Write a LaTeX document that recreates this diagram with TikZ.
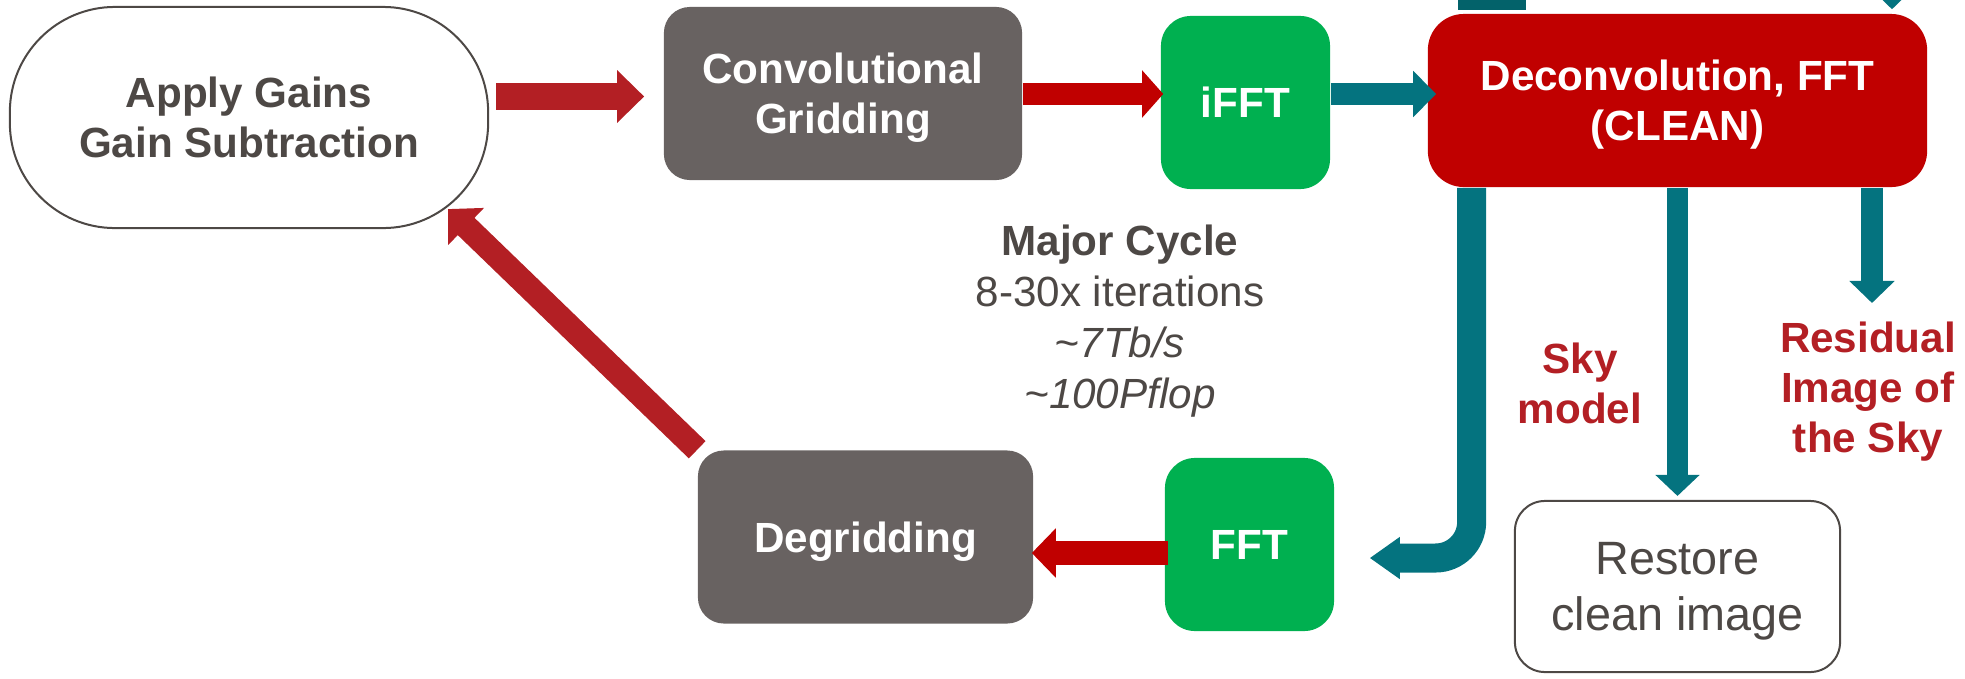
\documentclass[tikz,border=0pt]{standalone}
\usepackage{fontspec}
\setmainfont{Liberation Sans}
\usetikzlibrary{arrows.meta,calc}

\newlength{\du}
\setlength{\du}{0.01cm}

\definecolor{boxgray}{HTML}{686261}
\definecolor{fftgreen}{HTML}{00B050}
\definecolor{cleanred}{HTML}{C00000}
\definecolor{flowred}{HTML}{B31F24}
\definecolor{flowteal}{HTML}{04737F}
\definecolor{loopteal}{HTML}{03626A}
\definecolor{textgray}{HTML}{4D4845}

% 1 px of the picture = 0.1mm
\tikzset{
  stagebox/.style={rounded corners=2.6mm, inner sep=0pt, text=white, align=center, text depth=0pt,
    font=\bfseries\fontsize{12}{14.2}\selectfont, minimum height=17.3mm},
  graybox/.style={stagebox, fill=boxgray, minimum width=#1},
  greenbox/.style={stagebox, fill=fftgreen, minimum width=16.9mm, rounded corners=3mm},
  outline/.style={draw=textgray, line width=0.2mm, inner sep=0pt, align=center, text depth=0pt, text=textgray},
  skylabel/.style={text=flowred, align=center, anchor=base, inner sep=0pt,
    font=\bfseries\fontsize{12}{14.2}\selectfont},
  flow/.style n args={3}{line width=#1, -{Triangle[width=#2, length=#3]}}
}

\begin{document}
\begin{tikzpicture}
\pgftransformyscale{-1.000000}
\useasboundingbox (0\du,0\du) rectangle (1965\du,678\du);
\clip (0\du,0\du) rectangle (1965\du,678\du);

% major cycle
\node[outline, rounded corners=10.5mm, minimum width=47.8mm, minimum height=22.1mm,
  font=\bfseries\fontsize{12}{14.2}\selectfont] (apply) at (249\du,117.5\du) {Apply Gains\\Gain Subtraction};
\node[graybox=35.8mm] (conv) at (843\du,93.5\du) {Convolutional\\Gridding};
\node[greenbox] (ifft) at (1245.5\du,102.5\du) {iFFT};
\node[stagebox, fill=cleanred, minimum width=49.9mm, rounded corners=3.6mm] (decon) at (1677.5\du,100.5\du) {Deconvolution, FFT\\(CLEAN)};
\node[greenbox] (fft) at (1249.5\du,544.5\du) {FFT};
\node[graybox=33.5mm] (degrid) at (865.5\du,537\du) {Degridding};
\node[outline, rounded corners=3mm, minimum width=32.5mm, minimum height=17.1mm,
  font=\fontsize{13.3}{15.9}\selectfont] (restore) at (1677.5\du,586.5\du) {Restore\\clean image};

% base = baseline of the last line
\node[text=textgray, align=center, anchor=base, inner sep=0pt, font=\fontsize{12}{14.5}\selectfont] (major) at (1120\du,408\du)
  {\textbf{Major Cycle}\\8-30x iterations\\\textit{\textasciitilde 7Tb/s}\\\textit{\textasciitilde 100Pflop}};
\node[skylabel] (sky) at (1580\du,423\du) {Sky\\model};
\node[skylabel] (resid) at (1868\du,452\du) {Residual\\Image of\\the Sky};

\coordinate (residtip) at (1872\du,303\du);
\coordinate (minorin) at (1892\du,-60\du);

\draw[flow={2.6mm}{5.1mm}{2.7mm}, flowred, shorten <=0.7mm, shorten >=1.9mm] ($(apply.east)+(0,-21\du)$) -- ($(conv.west)+(0,3\du)$);
\draw[flow={2.2mm}{4.6mm}{2.1mm}, cleanred, shorten >=-0.3mm] ($(conv.east)+(0,0.5\du)$) -- ($(ifft.west)+(0,-8.5\du)$);
\draw[flow={2.2mm}{4.5mm}{2.3mm}, flowteal, shorten >=-0.9mm] ($(ifft.east)+(0,-8.5\du)$) -- ($(decon.west)+(0,-6.5\du)$);
\draw[flow={2.9mm}{4mm}{3mm}, flowteal, rounded corners=3.6mm] ($(decon.south west)+(44.5\du,0)$) |- ($(fft.east)+(35\du,13.5\du)$);
\draw[flow={2.1mm}{4.3mm}{2.1mm}, flowteal, shorten >=0.4mm] (decon.south) -- (restore.north);
\draw[flow={2.2mm}{4.4mm}{2.2mm}, flowteal] (decon.south -| residtip) -- (residtip);
\draw[flow={2.4mm}{4.8mm}{2.4mm}, cleanred, shorten <=-0.4mm, shorten >=-0.2mm] ($(fft.west)+(0,8.5\du)$) -- ($(degrid.east)+(0,16\du)$);
\draw[flow={2.4mm}{5mm}{2.5mm}, flowred] (degrid.north west) -- ($(apply.south east)+(-41\du,-20\du)$);

% minor cycle, cut off at the top
\fill[loopteal] ($(decon.north west)+(31\du,-40\du)$) rectangle ($(decon.north west)+(99\du,-3.3\du)$);
\draw[flow={2.2mm}{4.4mm}{2.2mm}, flowteal, shorten >=0.4mm] (minorin) -- (decon.north -| minorin);
\end{tikzpicture}
\end{document}
